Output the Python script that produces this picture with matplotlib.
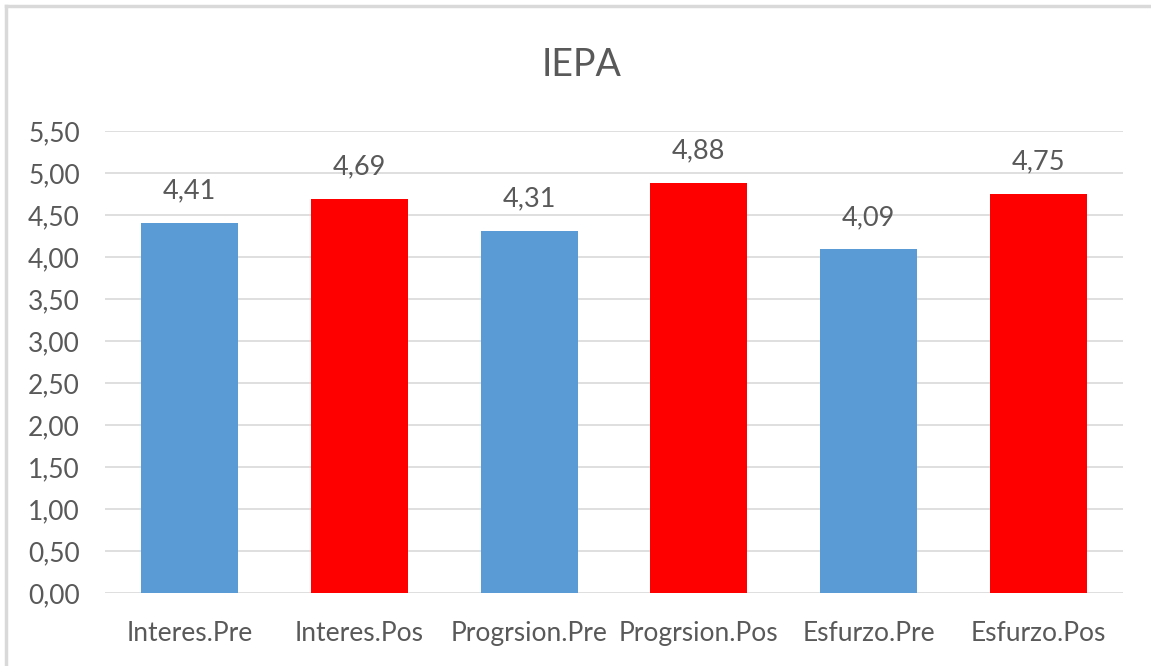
import matplotlib
matplotlib.use("Agg")
import matplotlib.pyplot as plt
from matplotlib.lines import Line2D
from matplotlib.ticker import FuncFormatter, MultipleLocator

categories = ['Interes.Pre', 'Interes.Pos', 'Progrsion.Pre', 'Progrsion.Pos', 'Esfurzo.Pre', 'Esfurzo.Pos']
values = [4.41, 4.69, 4.31, 4.88, 4.09, 4.75]
bar_colors = ['#5B9BD5', '#FF0000', '#5B9BD5', '#FF0000', '#5B9BD5', '#FF0000']

plt.rcParams['font.family'] = ['Lato', 'DejaVu Sans']
txt = '#595959'

fig = plt.figure(figsize=(11.51, 6.66), dpi=100)
ax = fig.add_axes([105/1151, 1 - 593/666, (1123-105)/1151, (593-131)/666])

x = range(len(categories))
ax.bar(x, values, width=0.57, color=bar_colors, zorder=3)
for i, v in enumerate(values):
    ax.text(i, v + 0.38, f'{v:.2f}'.replace('.', ','), ha='center', va='center',
            fontsize=19.5, color=txt)

ax.set_xlim(-0.5, len(categories) - 0.5)
ax.set_ylim(0, 5.5)
ax.yaxis.set_major_locator(MultipleLocator(0.5))
ax.yaxis.set_major_formatter(FuncFormatter(lambda v, p: f'{v:.2f}'.replace('.', ',')))
ax.set_xticks(list(x))
ax.set_xticklabels(categories)
ax.tick_params(axis='both', length=0, labelsize=19, labelcolor=txt)
ax.tick_params(axis='x', pad=20)
ax.tick_params(axis='y', pad=18)
ax.grid(axis='y', color='#D9D9D9', linewidth=1.2, zorder=0)
for s in ax.spines.values():
    s.set_visible(False)

fig.text(582/1151, 1 - 65/666, 'IEPA', ha='center', va='center', fontsize=27, color=txt)

# chart border (only left and top are within the picture)
fig.add_artist(Line2D([6/1151, 6/1151], [0, 1 - 6/666], color='#D9D9D9', linewidth=2.5))
fig.add_artist(Line2D([6/1151, 1], [1 - 6/666, 1 - 6/666], color='#D9D9D9', linewidth=2.5))

fig.savefig('out.png', dpi=100)
